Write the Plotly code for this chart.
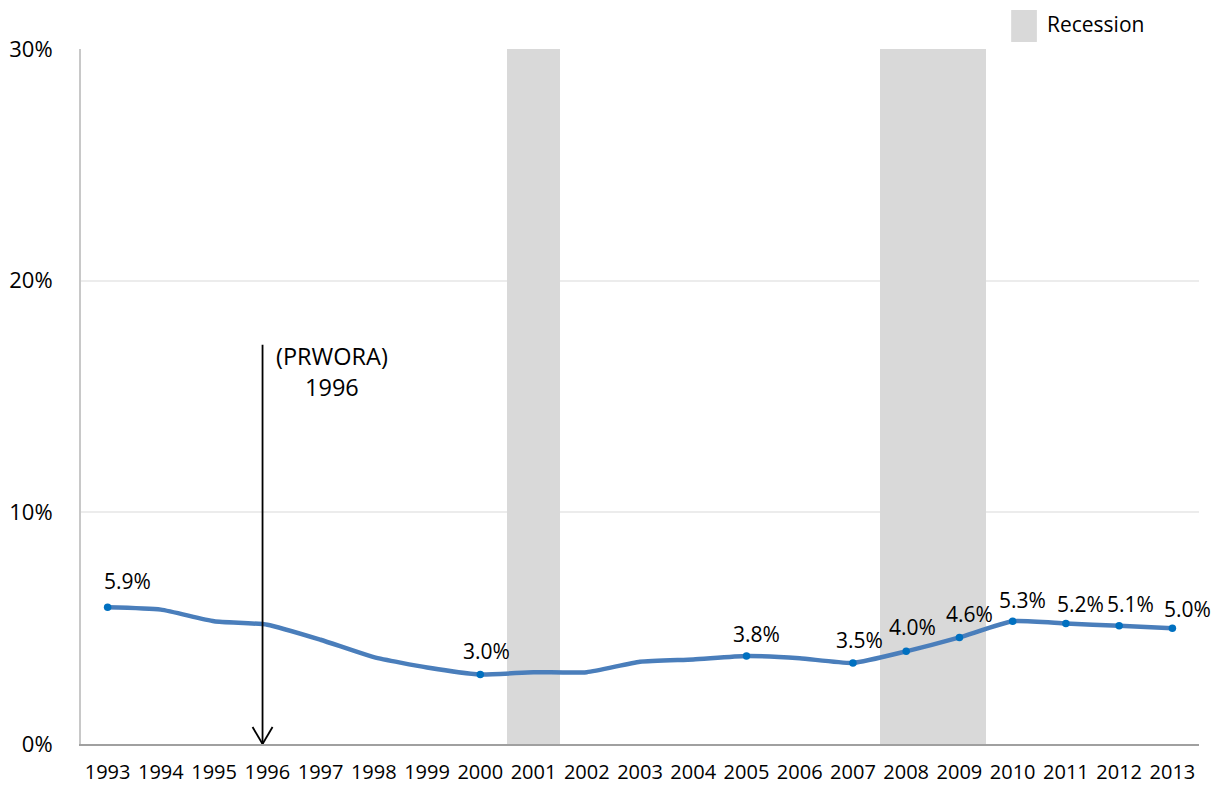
import plotly.graph_objects as go

# Annual rate, 1993-2013
years = list(range(1993, 2014))
rate = [5.9, 5.8, 5.3, 5.15, 4.5, 3.75, 3.3, 3.0, 3.1, 3.1, 3.55,
        3.65, 3.8, 3.7, 3.5, 4.0, 4.6, 5.3, 5.2, 5.1, 5.0]

# Years that carry a value label
labeled_years = [1993, 2000, 2005, 2007, 2008, 2009, 2010, 2011, 2012, 2013]

# Recession years (shaded)
recession_years = [2001, 2008, 2009]

# Policy marker
policy_year = 1996
policy_label = "(PRWORA)<br>1996"

y_ticks = [0, 10, 20, 30]
y_tick_text = ["0%", "10%", "20%", "30%"]

FONT = "Open Sans"
TEXT_COLOR = "#000000"
LINE_COLOR = "#4a7ebb"
MARKER_COLOR = "#0070c0"
SHADE_COLOR = "#d9d9d9"
Y_MAX = 30

# Pixel nudges for the value labels (x, y)
label_nudge = {1993: (20, 6), 2000: (6, 4), 2005: (10, 2), 2007: (7, 3),
               2008: (6, 4), 2009: (10, 3), 2010: (10, 1), 2011: (15, 0),
               2012: (11, 2), 2013: (15, -1)}

fig = go.Figure()

# Recession shading as full-height bars, one year wide
fig.add_trace(go.Bar(
    x=recession_years,
    y=[Y_MAX] * len(recession_years),
    width=1,
    marker=dict(color=SHADE_COLOR, line=dict(width=0)),
    name="Recession",
    showlegend=False,
    hoverinfo="skip",
))

# Main series line
fig.add_trace(go.Scatter(
    x=years, y=rate,
    mode="lines",
    line=dict(color=LINE_COLOR, width=4.5, shape="spline", smoothing=0.5),
    showlegend=False,
))

# Markers on labelled points
lab_vals = [rate[years.index(y)] for y in labeled_years]
fig.add_trace(go.Scatter(
    x=labeled_years, y=lab_vals,
    mode="markers",
    marker=dict(color=MARKER_COLOR, size=7.5),
    showlegend=False,
))

annotations = []
for yr, v in zip(labeled_years, lab_vals):
    dx, dy = label_nudge.get(yr, (0, 0))
    annotations.append(dict(
        x=yr, y=v, xref="x", yref="y",
        text=f"{v:.1f}%",
        showarrow=False,
        yanchor="bottom",
        xshift=dx, yshift=4 + dy,
        font=dict(family=FONT, size=21, color=TEXT_COLOR),
    ))

# Vertical arrow shaft at the policy year
arrow_x = policy_year - 0.09
annotations.append(dict(
    x=arrow_x, y=0, xref="x", yref="y",
    ax=arrow_x, ay=17.3, axref="x", ayref="y",
    text="",
    showarrow=True,
    arrowhead=0, arrowwidth=1.8,
    arrowcolor="#000000",
))
annotations.append(dict(
    x=policy_year + 1.22, y=16.1, xref="x", yref="y",
    text=policy_label,
    showarrow=False,
    align="center",
    font=dict(family=FONT, size=23.5, color=TEXT_COLOR),
))

# Legend entry
annotations.append(dict(
    x=0.862, y=1.036, xref="paper", yref="paper",
    text="Recession",
    xanchor="left", yanchor="middle",
    showarrow=False,
    font=dict(family=FONT, size=21, color=TEXT_COLOR),
))

shapes = [
    dict(type="rect", xref="paper", yref="paper",
         x0=0.832, x1=0.855, y0=1.0101, y1=1.0561,
         fillcolor=SHADE_COLOR, line=dict(width=0)),
]
# Open "V" arrow head, sized in pixels and anchored on the axis
for side in (-1, 1):
    shapes.append(dict(
        type="line", xref="x", yref="y",
        xsizemode="pixel", ysizemode="pixel",
        xanchor=arrow_x, yanchor=0,
        x0=side * 10, y0=17, x1=0, y1=0,
        line=dict(color="#000000", width=1.8),
    ))

fig.update_layout(
    width=1222, height=786,
    margin=dict(l=81, r=23, t=49, b=42),
    paper_bgcolor="white",
    plot_bgcolor="white",
    bargap=0,
    annotations=annotations,
    shapes=shapes,
    font=dict(family=FONT, size=20, color=TEXT_COLOR),
)

fig.update_xaxes(
    range=[1992.5, 2013.5],
    tickvals=years,
    ticktext=[str(y) for y in years],
    showgrid=False,
    zeroline=False,
    showline=True, linecolor="#a0a0a0", linewidth=2,
    ticks="outside", ticklen=9, tickcolor="rgba(0,0,0,0)",
    tickfont=dict(family=FONT, size=20, color=TEXT_COLOR),
    automargin=False,
    fixedrange=True,
)
fig.update_yaxes(
    range=[0, Y_MAX],
    tickvals=y_ticks,
    ticktext=y_tick_text,
    showgrid=True, gridcolor="#ececec", gridwidth=1.5,
    zeroline=False,
    showline=True, linecolor="#c8c8c8", linewidth=2,
    ticks="outside", ticklen=22, tickcolor="rgba(0,0,0,0)",
    tickfont=dict(family=FONT, size=22, color=TEXT_COLOR),
    automargin=False,
    fixedrange=True,
)

fig.write_html("out.html", config={"displayModeBar": False})
